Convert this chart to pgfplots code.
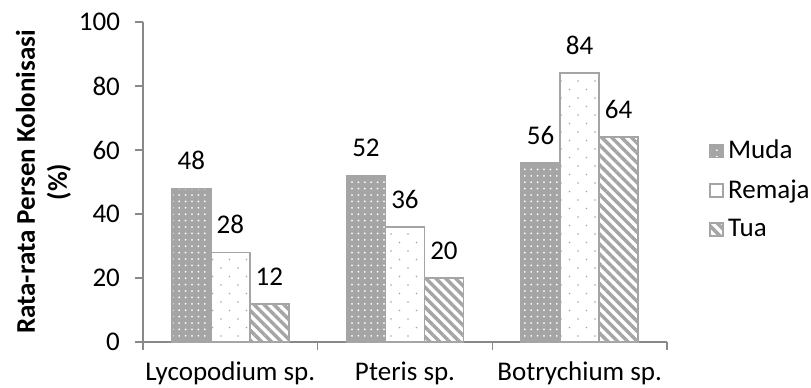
\documentclass[border=0pt]{standalone}
\usepackage{pgfplots}
\pgfplotsset{compat=1.18}
\usetikzlibrary{patterns.meta}
\usepackage{fontspec}
\setmainfont{Carlito}

\definecolor{barGray}{HTML}{A5A5A5}
\definecolor{axisGray}{HTML}{898989}

\pgfplotstableread{
x muda remaja tua
0 48 28 12
1 52 36 20
2 56 84 64
}\koloni

\begin{document}
\begin{tikzpicture}[font=\fontsize{13.5}{16}\selectfont]
\path[use as bounding box] (-71.5pt,-22.5pt) rectangle (334pt,171pt);
\begin{axis}[
    scale only axis, width=262pt, height=160pt,
    ybar=0pt, bar width=19.5pt,
    xmin=-0.5, xmax=2.5, ymin=0, ymax=100,
    axis x line*=bottom, axis y line*=left,
    axis line style={axisGray, line width=0.8pt},
    tick style={axisGray, line width=0.8pt},
    tick align=outside, major tick length=4pt,
    ytick={0,20,...,100},
    yticklabel style={xshift=-4pt},
    /pgf/number format/assume math mode=true,
    xtick={-0.5,0.5,1.5,2.5}, xticklabels={},
    extra x ticks={0,1,2},
    extra x tick labels={Lycopodium sp., Pteris sp., Botrychium sp.},
    extra x tick style={major tick length=0pt, tick label style={yshift=-6.5pt}},
    ylabel={Rata-rata Persen Kolonisasi\\(\%)},
    ylabel style={font=\fontsize{13.5}{16}\selectfont\bfseries, align=center,
        at={(rel axis cs:-0.19,0.5)}, anchor=center, rotate=0},
    nodes near coords,
    every node near coord/.append style={text=black, yshift=5.5pt},
    legend style={at={(1.08,0.475)}, anchor=west, draw=none, fill=none,
        inner sep=0pt, row sep=5pt, font=\fontsize{13.5}{16}\selectfont},
    legend cell align=left,
    legend image code/.code={\draw[#1] (0pt,-3.25pt) rectangle (6.5pt,3.25pt);},
    every axis plot/.append style={draw=barGray, line width=0.9pt},
]
\addplot[fill=barGray,
    postaction={pattern={Dots[distance=3.2pt,radius=0.5pt]}, pattern color=white}]
    table[x=x, y=muda] {\koloni};
\addplot[fill=white,
    postaction={pattern={Dots[distance=8.5pt,radius=0.45pt]}, pattern color=barGray},
    postaction={pattern={Dots[distance=8.5pt,radius=0.45pt,xshift=4.25pt,yshift=4.25pt]}, pattern color=barGray}]
    table[x=x, y=remaja] {\koloni};
\addplot[fill=white,
    postaction={pattern={Lines[angle=-45,distance=3.5pt,line width=1.7pt]}, pattern color=barGray}]
    table[x=x, y=tua] {\koloni};
\legend{Muda, Remaja, Tua}
\end{axis}
\end{tikzpicture}
\end{document}
